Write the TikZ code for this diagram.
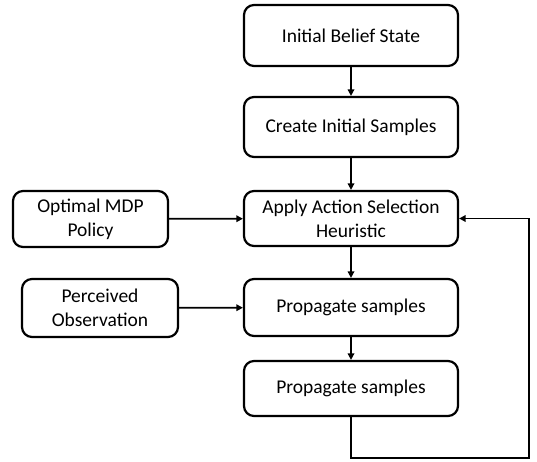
\documentclass[tikz,border=0pt]{standalone}
\usepackage{fontspec}
\setmainfont{Carlito}
\usetikzlibrary{arrows.meta}
\begin{document}
\begin{tikzpicture}[x=1pt,y=-1pt,
  box/.style={draw, line width=2.2pt, rounded corners=10pt, align=center,
    inner sep=0pt, font=\fontsize{19.5}{24}\selectfont},
  flow/.style={line width=1.8pt, -{Triangle[length=6.5pt,width=6.5pt]}}]
  \useasboundingbox (0,0) rectangle (537,462);
  % main column
  \node[box, minimum width=214pt, minimum height=61pt] (b1) at (351,35.5) {Initial Belief State};
  \node[box, minimum width=214pt, minimum height=60pt] (b2) at (351,127) {Create Initial Samples};
  \node[box, minimum width=214pt, minimum height=55pt] (b3) at (351,218.5) {Apply Action Selection\\Heuristic};
  \node[box, minimum width=214pt, minimum height=57pt] (b4) at (351,307.5) {Propagate samples};
  \node[box, minimum width=214pt, minimum height=55pt] (b5) at (351,388.5) {Propagate samples};
  % side inputs
  \node[box, minimum width=155pt, minimum height=56pt] (opt) at (90.5,219) {Optimal MDP\\Policy};
  \node[box, minimum width=156pt, minimum height=58pt] (per) at (100,308) {Perceived\\Observation};
  % connectors
  \draw[flow] (b1) -- (b2);
  \draw[flow] (b2) -- (b3);
  \draw[flow] (b3) -- (b4);
  \draw[flow] (b4) -- (b5);
  \draw[flow] (opt) -- (b3);
  \draw[flow] (per) -- (b4);
  % feedback loop
  \coordinate (lb) at (351,458);
  \coordinate (rb) at (529,458);
  \coordinate (rt) at (529,218.5);
  \draw[flow] (b5.south) -- (lb) -- (rb) -- (rt) -- (b3.east);
\end{tikzpicture}
\end{document}
